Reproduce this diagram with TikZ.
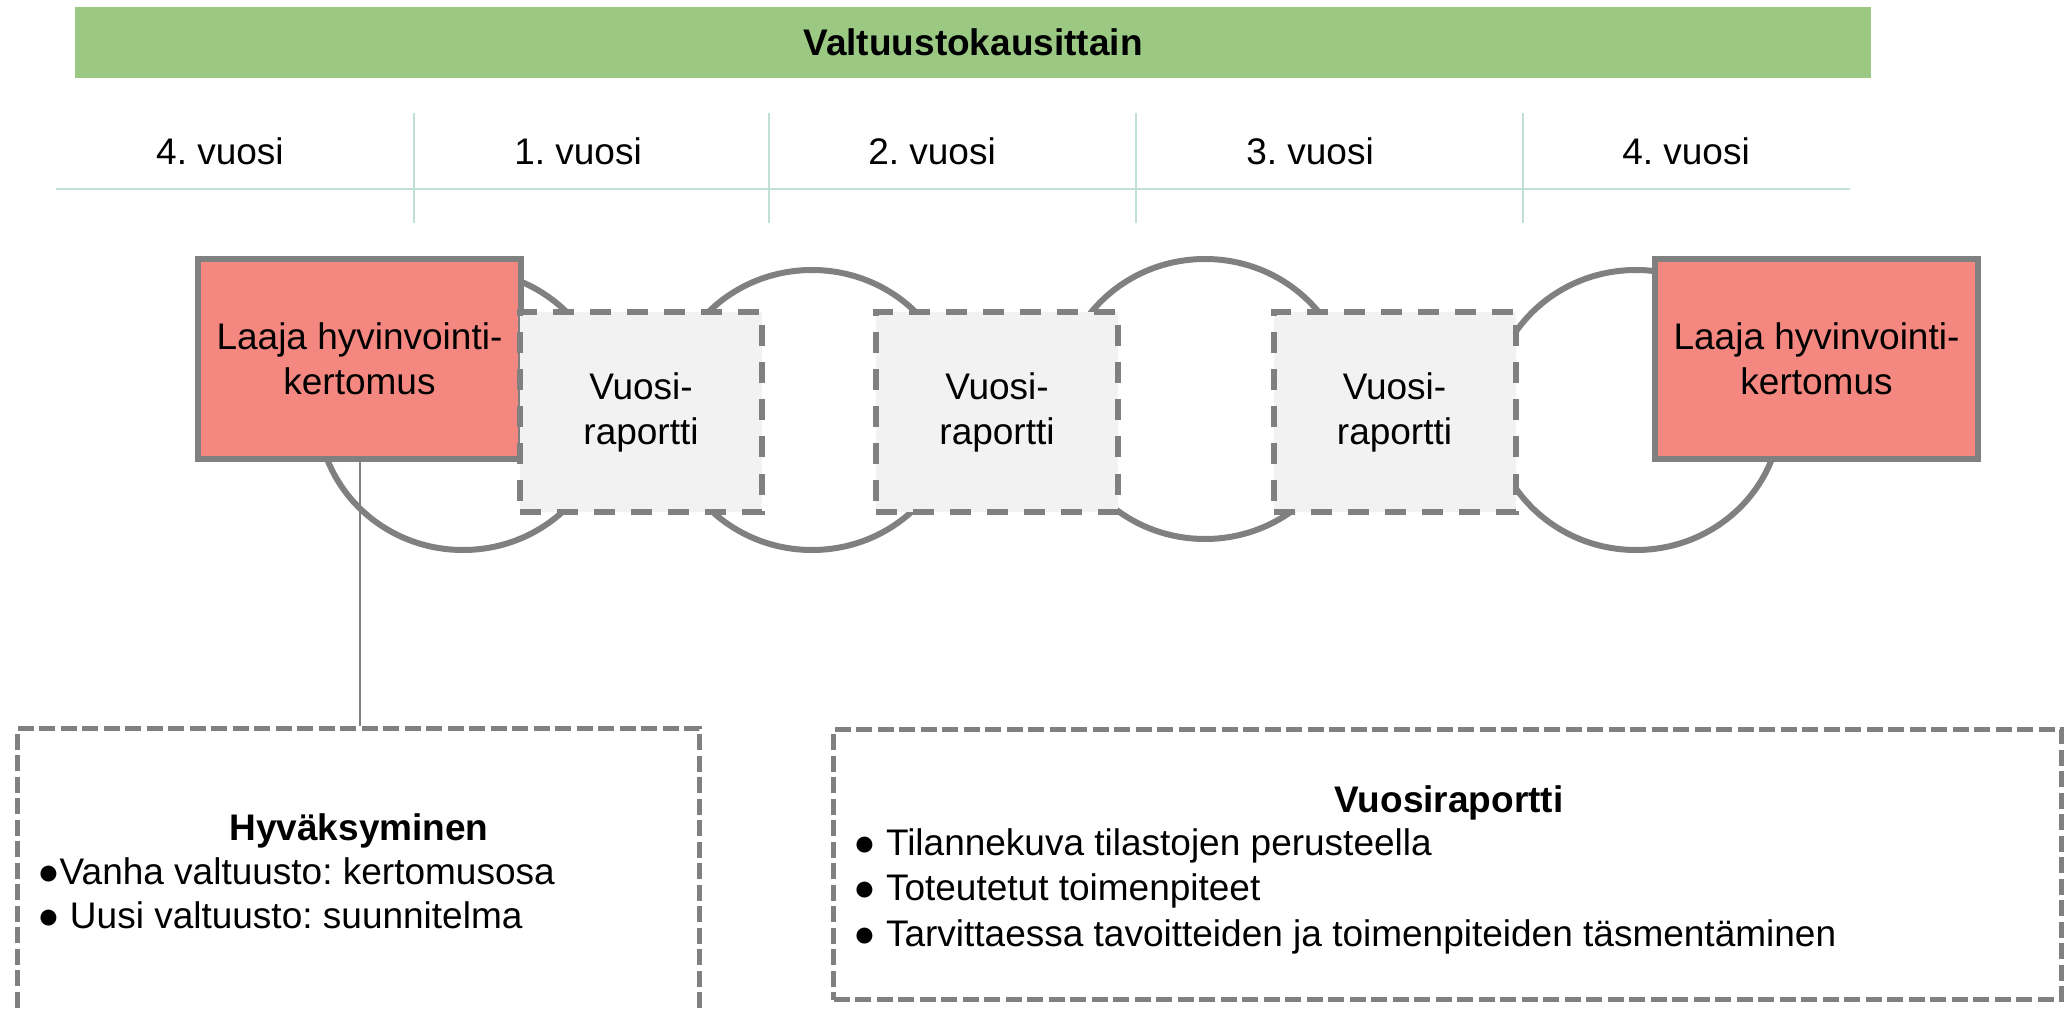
\documentclass[tikz,border=0pt]{standalone}
\usepackage{fontspec}
\setmainfont{Liberation Sans}
\frenchspacing
\usetikzlibrary{positioning,shapes.geometric}
\definecolor{bandgreen}{RGB}{155,201,132}
\definecolor{widepink}{RGB}{244,136,128}
\definecolor{annualgray}{RGB}{242,242,242}
\definecolor{rimgray}{RGB}{128,128,128}
\definecolor{gridteal}{RGB}{191,224,214}
\tikzset{
cycle/.style={x=0.5pt,y=-0.5pt,font=\fontsize{18.5}{22.5}\selectfont},
band/.style={fill=bandgreen,minimum width=898pt,minimum height=35.5pt,
font=\fontsize{18.5}{22.5}\selectfont\bfseries},
year/.style={anchor=base,inner sep=0pt},
grid/.style={draw=gridteal,line width=0.9pt},
ring/.style={ellipse,draw=rimgray,line width=3pt,minimum width=145pt,
minimum height=140pt,inner sep=0pt},
wide/.style={rectangle,draw=rimgray,fill=widepink,line width=3pt,
minimum width=161.5pt,minimum height=100pt,align=center},
annual/.style={rectangle,draw=rimgray,fill=annualgray,line width=3pt,
dash pattern=on 10.5pt off 8pt,minimum width=121pt,minimum height=99.5pt,align=center},
note/.style={rectangle,draw=rimgray,line width=2.5pt,dash pattern=on 8pt off 2.75pt},
link/.style={draw=rimgray,line width=1pt},
head/.style={anchor=base,inner sep=0pt,font=\fontsize{18.5}{22.5}\selectfont\bfseries},
item/.style={anchor=base west,inner sep=0pt},
}

\begin{document}
\begin{tikzpicture}[cycle]
\useasboundingbox (0,0) rectangle (2072,1010);

% header
\node[band] (band) at (973,42.5) {Valtuustokausittain};
\draw[grid] (56,189) -- (1850,189);
\foreach \x in {414,769,1136,1523}
  \draw[grid] (\x,113) -- (\x,223);
\foreach \x/\n [count=\i] in {220/4,578/1,932/2,1310/3,1686/4}
  \node[year] (yr\i) at (\x,165) {\n. vuosi};

% cycle
\node[ring] (c1) at (463,410) {};
\node[ring] (c2) at (812,410) {};
\node[ring] (c3) at (1205,399) {};
\node[ring] (c4) at (1636,410) {};

\node[wide] (k1) at (359.5,359) {Laaja hyvinvointi-\\kertomus};
\node[wide] (k2) at (1816.5,359) {Laaja hyvinvointi-\\kertomus};
\node[annual] (r1) at (641,412) {Vuosi-\\raportti};
\node[annual] (r2) at (997,412) {Vuosi-\\raportti};
\node[annual] (r3) at (1394.5,412) {Vuosi-\\raportti};

% notes
\node[note,minimum width=341pt,minimum height=186pt] (hyv) at (358.5,914) {};
\node[note,minimum width=614pt,minimum height=135pt] (vr) at (1447.5,864.5) {};
\draw[link] (k1.south) -- (k1.south |- hyv.north);

\node[head] (hyvt) at (359,840) {Hyväksyminen};
\node[item] (h1) at (37,884) {●Vanha valtuusto: kertomusosa};
\node[item] (h2) at (37,928) {● Uusi valtuusto: suunnitelma};

\node[head] (vrt) at (1449,812) {Vuosiraportti};
\node[item] (v1) at (853,855) {● Tilannekuva tilastojen perusteella};
\node[item] (v2) at (853,900) {● Toteutetut toimenpiteet};
\node[item] (v3) at (853,946) {● Tarvittaessa tavoitteiden ja toimenpiteiden täsmentäminen};
\end{tikzpicture}
\end{document}
